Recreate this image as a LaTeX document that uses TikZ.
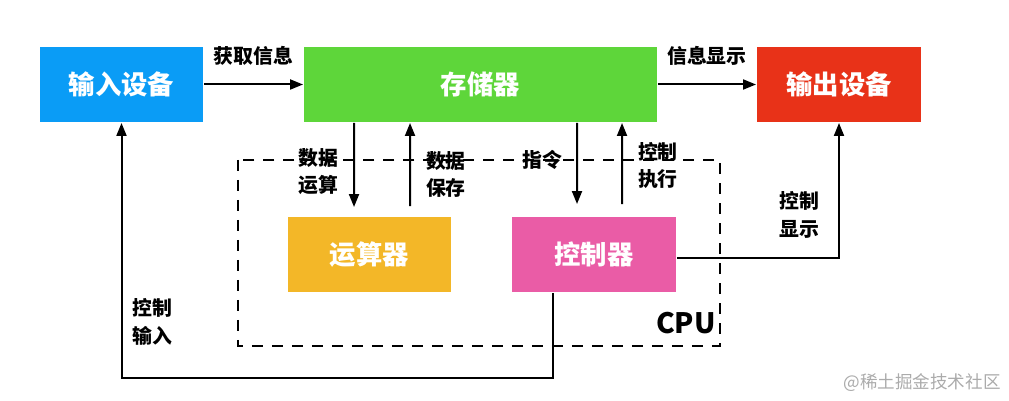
\documentclass[tikz,border=0pt]{standalone}
\usepackage{fontspec}
\setmainfont{Noto Sans CJK SC}
\usetikzlibrary{arrows.meta,calc,positioning}

\definecolor{inblue}{RGB}{10,156,246}
\definecolor{memgreen}{RGB}{94,214,58}
\definecolor{outred}{RGB}{232,50,24}
\definecolor{aluyellow}{RGB}{243,183,40}
\definecolor{ctlpink}{RGB}{234,92,166}

\begin{document}
\begin{tikzpicture}[x=0.02cm,y=-0.02cm,line width=0.04cm,
>={Triangle[length=0.26cm,width=0.2cm]}]
\tikzstyle{unit}=[minimum width=3.26cm,minimum height=1.5cm,inner sep=0pt,
text=white,font=\bfseries\fontsize{15}{17}\selectfont]
\tikzstyle{lbl}=[align=center,inner sep=0pt,font=\bfseries\fontsize{11.3}{15.5}\selectfont]

\useasboundingbox (0,0) rectangle (1009,401);

\node[unit,fill=inblue]                          (in)  at (121.5,84.5) {输入设备};
\node[unit,fill=memgreen,minimum width=7.06cm]   (mem) at (480.5,84.5) {存储器};
\node[unit,fill=outred,minimum width=3.28cm]     (out) at (839,84.5)   {输出设备};
\node[unit,fill=aluyellow]                       (alu) at (369.5,254.5) {运算器};
\node[unit,fill=ctlpink,minimum width=3.28cm]    (ctl) at (594,254.5)  {控制器};

% CPU frame
\draw[dash pattern=on 0.22cm off 0.18cm] (238,160) rectangle (720,346);
\node[font=\bfseries\fontsize{16}{18}\selectfont,inner sep=0pt] (cpu) at (686,323) {CPU};

% memory bus
\draw[->] (in) -- (mem) node[lbl,midway,above=0.36cm] {获取信息};
\draw[->] (mem) -- (out) node[lbl,midway,above=0.36cm] {信息显示};

\draw[->,shorten >=0.18cm] ($(mem.south west)+(51,0)$) -- ($(alu.north west)+(67,0)$)
  node[lbl,pos=0.52,left=0.3cm] {数据\\运算};
\draw[->,shorten <=0.2cm] ($(alu.north west)+(123,0)$) -- ($(mem.south west)+(107,0)$)
  node[lbl,pos=0.45,right=0.3cm] {数据\\保存};
\draw[->,shorten >=0.24cm] ($(mem.south west)+(274,0)$) -- ($(ctl.north west)+(66,0)$)
  node[lbl,pos=0.4,left=0.28cm] {指令};
\draw[->,shorten <=0.24cm] ($(ctl.north west)+(111,0)$) -- ($(mem.south west)+(319,0)$)
  node[lbl,pos=0.54,right=0.3cm] {控制\\执行};

% control lines
\draw[->] ($(ctl.east)+(0,3.5)$) -| (out.south)
  node[lbl,pos=0.66,left=0.38cm] {控制\\显示};
\draw[->] ($(ctl.south)+(-41,0)$) -- ++(0,85) -| (in.south)
  node[lbl,pos=0.61,right=0.2cm] {控制\\输入};

\node[text=black!33,inner sep=0pt,font=\fontsize{10}{12}\selectfont] (mark) at (922,383) {@稀土掘金技术社区};
\end{tikzpicture}
\end{document}
